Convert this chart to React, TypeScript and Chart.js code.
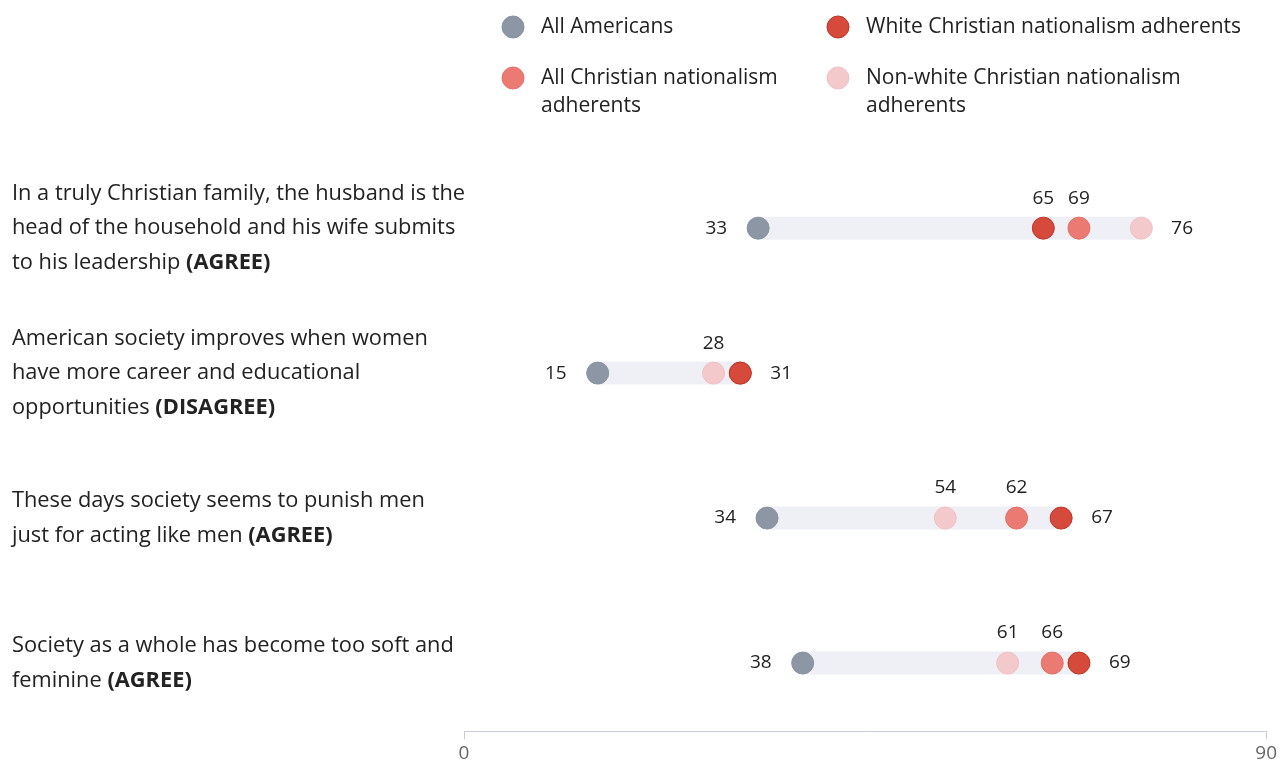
import React, { useEffect, useRef } from "react";
import { Chart, registerables } from "chart.js";

Chart.register(...registerables);

// ---- data ----
const categoryLines: string[][] = [
  ["In a truly Christian family, the husband is the", "head of the household and his wife submits", "to his leadership (AGREE)"],
  ["American society improves when women", "have more career and educational", "opportunities (DISAGREE)"],
  ["These days society seems to punish men", "just for acting like men (AGREE)"],
  ["Society as a whole has become too soft and", "feminine (AGREE)"],
];
const seriesNames = [
  "All Americans",
  "White Christian nationalism adherents",
  "All Christian nationalism adherents",
  "Non-white Christian nationalism adherents",
];
const allAmericans = [33, 15, 34, 38];
const whiteCN = [65, 31, 67, 69];
const allCN = [69, 31, 62, 66];
const nonWhiteCN = [76, 28, 54, 61];
const xTicks = [0, 90];

const COLORS = ["#8c96a4", "#d54a3a", "#eb7b72", "#f3c9cc"];
const BORDERS = ["#8893a1", "#bf3527", "#e57168", "#f0c2c5"];
const FONT = "'Open Sans', 'Noto Sans', sans-serif";

const seriesValues = [allAmericans, whiteCN, allCN, nonWhiteCN];

export default function App() {
  const ref = useRef<HTMLCanvasElement | null>(null);
  useEffect(() => {
    if (!ref.current) return;
    const bandDatasets = categoryLines.map((_, i) => {
      const vals = seriesValues.map((s) => s[i]);
      return {
        type: "line" as const,
        label: "band" + i,
        data: [
          { x: Math.min(...vals), y: i },
          { x: Math.max(...vals), y: i },
        ],
        borderColor: "#eef0f6",
        borderWidth: 23,
        borderCapStyle: "butt" as const,
        pointRadius: 0,
        order: 10,
      };
    });
    const orderMap = [4, 1, 2, 3];
    const dotDatasets = seriesNames.map((name, si) => ({
      type: "scatter" as const,
      label: name,
      data: seriesValues[si].map((v, i) => ({ x: v, y: i })),
      backgroundColor: COLORS[si],
      borderColor: BORDERS[si],
      borderWidth: 1,
      pointRadius: 11,
      order: orderMap[si],
    }));

    const labelsPlugin = {
      id: "customText",
      afterDatasetsDraw(chart: any) {
        const ctx = chart.ctx;
        const xs = chart.scales.x;
        const ys = chart.scales.y;
        ctx.save();
        // value labels
        ctx.font = `19px ${FONT}`;
        ctx.fillStyle = "#222";
        ctx.textBaseline = "middle";
        categoryLines.forEach((_, i) => {
          const pts = seriesValues.map((s) => s[i]);
          const sorted = [...pts].sort((a, b) => a - b);
          const mn = sorted[0];
          const mx = sorted[sorted.length - 1];
          const y = ys.getPixelForValue(i);
          pts.forEach((v, si) => {
            const x = xs.getPixelForValue(v);
            if (v === mn && si === pts.indexOf(mn)) {
              ctx.textAlign = "right";
              ctx.fillText(String(v), x - 31, y);
            } else if (v === mx && si === pts.indexOf(mx)) {
              ctx.textAlign = "left";
              ctx.fillText(String(v), x + 30, y);
            } else {
              const crowded = pts.some((o, oi) => oi !== si && Math.abs(o - v) < 1.5);
              if (crowded) return;
              ctx.textAlign = "center";
              ctx.fillText(String(v), x, y - 30);
            }
          });
        });
        // category labels
        const lh = 34.5;
        categoryLines.forEach((lines, i) => {
          const yc = ys.getPixelForValue(i);
          const y0 = yc - ((lines.length - 1) * lh) / 2;
          lines.forEach((line, li) => {
            const yy = y0 + li * lh;
            let x = 12;
            const idx = line.indexOf("(");
            const parts: [string, boolean][] =
              idx >= 0 ? [[line.slice(0, idx), false], [line.slice(idx), true]] : [[line, false]];
            ctx.textAlign = "left";
            parts.forEach(([t, b]) => {
              ctx.font = `${b ? "bold " : ""}21.8px ${FONT}`;
              ctx.fillStyle = "#222";
              ctx.fillText(t, x, yy);
              x += ctx.measureText(t).width;
            });
          });
        });
        // legend
        const legendPos = [
          [513, 27],
          [838, 27],
          [513, 78],
          [838, 78],
        ];
        const legendLines = [
          ["All Americans"],
          ["White Christian nationalism adherents"],
          ["All Christian nationalism", "adherents"],
          ["Non-white Christian nationalism", "adherents"],
        ];
        legendPos.forEach(([lx, ly], k) => {
          ctx.beginPath();
          ctx.arc(lx, ly, 11, 0, Math.PI * 2);
          ctx.fillStyle = COLORS[k];
          ctx.fill();
          ctx.lineWidth = 1;
          ctx.strokeStyle = BORDERS[k];
          ctx.stroke();
          ctx.font = `21px ${FONT}`;
          ctx.fillStyle = "#222";
          ctx.textAlign = "left";
          legendLines[k].forEach((t, li) => ctx.fillText(t, lx + 28, ly + li * 28));
        });
        ctx.restore();
      },
    };

    const chart = new Chart(ref.current, {
      type: "scatter",
      data: { datasets: [...dotDatasets, ...bandDatasets] as any },
      options: {
        animation: false,
        responsive: false,
        layout: { padding: { left: 464, right: 10, top: 160, bottom: 0 } },
        plugins: { legend: { display: false }, tooltip: { enabled: false } },
        scales: {
          x: {
            type: "linear",
            min: 0,
            max: 90,
            afterBuildTicks: (axis: any) => {
              axis.ticks = xTicks.map((v) => ({ value: v }));
            },
            grid: { drawOnChartArea: false, color: "#c9ccd8", tickLength: 8 },
            border: { color: "#c9ccd8", width: 1 },
            ticks: { color: "#666", font: { family: FONT, size: 19 }, padding: 3 },
          },
          y: {
            type: "linear",
            display: false,
            reverse: true,
            min: -0.47,
            max: 3.47,
          },
        },
      },
      plugins: [labelsPlugin],
    });
    return () => chart.destroy();
  }, []);
  return (
    <div style={{ position: "absolute", left: 0, top: 0, width: 1280, height: 768, background: "#fff" }}>
      <canvas ref={ref} width={1280} height={768} />
    </div>
  );
}
